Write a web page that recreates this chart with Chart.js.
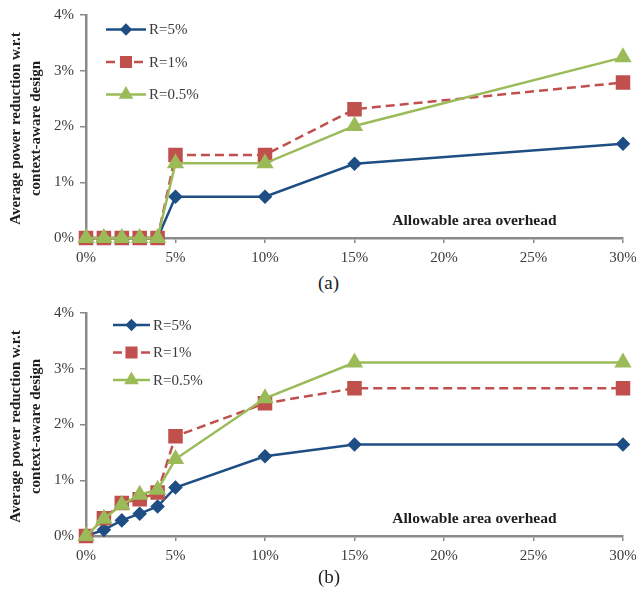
<!DOCTYPE html>
<html>
<head>
<meta charset="utf-8">
<script src="https://cdn.jsdelivr.net/npm/chart.js@4.4.0/dist/chart.umd.min.js"></script>
<style>
  html, body { margin: 0; padding: 0; background: #fff; }
  #wrap { position: relative; width: 636px; height: 593px; }
  .box { position: absolute; left: 0; width: 636px; height: 270px; }
  .cap { position: absolute; font-family: "Liberation Serif", serif; font-size: 19px; color: #222; }
</style>
</head>
<body>
<div id="wrap">
  <div class="box" style="top:0"><canvas id="chartA"></canvas></div>
  <div class="cap" style="left:318px; top:272px">(a)</div>
  <div class="box" style="top:298px"><canvas id="chartB"></canvas></div>
  <div class="cap" style="left:318px; top:566px">(b)</div>
</div>
<script>
// allowable area overhead (%)
const overhead = [0, 1, 2, 3, 4, 5, 10, 15, 30];
const seriesNames = ['R=5%', 'R=1%', 'R=0.5%'];
const xTicks = [0, 5, 10, 15, 20, 25, 30];
const yTicks = [0, 1, 2, 3, 4];
const yTitle = ['Average power reduction w.r.t', 'context-aware design'];

// (a) average power reduction (%)
const a_r5 = [0, 0, 0, 0, 0, 0.74, 0.74, 1.33, 1.69];
const a_r1 = [0, 0, 0, 0, 0, 1.49, 1.49, 2.31, 2.79];
const a_r05 = [0, 0, 0, 0, 0, 1.34, 1.34, 2.01, 3.24];

// (b) average power reduction (%)
const b_r5 = [0, 0.11, 0.28, 0.40, 0.53, 0.87, 1.43, 1.64, 1.64];
const b_r1 = [0, 0.32, 0.59, 0.66, 0.78, 1.79, 2.38, 2.65, 2.65];
const b_r05 = [0, 0.31, 0.56, 0.74, 0.83, 1.38, 2.47, 3.11, 3.11];

const serif = '"Liberation Serif", "Times New Roman", serif';
const axisGray = '#8a8a8a';
const textGray = '#3a3a3a';

function toPoints(vals) {
    return overhead.map((x, i) => ({ x: x, y: vals[i] }));
}

// legend drawn inside the plot area, top left
const insideLegend = {
    id: 'insideLegend',
    afterDraw(chart, args, opts) {
        const ctx = chart.ctx;
        ctx.save();
        chart.data.datasets.forEach((ds, i) => {
            const y = opts.top + i * opts.gap;
            ctx.strokeStyle = ds.borderColor;
            ctx.lineWidth = ds.borderWidth;
            ctx.setLineDash(ds.borderDash || []);
            ctx.beginPath();
            ctx.moveTo(opts.x0, y);
            ctx.lineTo(opts.x1, y);
            ctx.stroke();
            ctx.setLineDash([]);
            ctx.fillStyle = ds.pointBackgroundColor;
            ctx.strokeStyle = ds.pointBorderColor;
            Chart.helpers.drawPoint(ctx, {
                pointStyle: ds.pointStyle,
                radius: ds.pointRadius * 0.8,
                rotation: 0,
                borderWidth: 1
            }, (opts.x0 + opts.x1) / 2, y);
            ctx.fillStyle = textGray;
            ctx.font = '15px ' + serif;
            ctx.textAlign = 'left';
            ctx.textBaseline = 'middle';
            ctx.fillText(ds.label, opts.x1 + 3, y + 1);
        });
        ctx.restore();
    }
};

// "Allowable area overhead" note inside the plot
const areaNote = {
    id: 'areaNote',
    afterDraw(chart, args, opts) {
        const ctx = chart.ctx;
        ctx.save();
        ctx.font = 'bold 15.5px ' + serif;
        ctx.fillStyle = '#1e1e1e';
        ctx.textAlign = 'center';
        ctx.textBaseline = 'middle';
        ctx.fillText(opts.text, chart.scales.x.getPixelForValue(opts.x), chart.scales.y.getPixelForValue(opts.y));
        ctx.restore();
    }
};

// rotated two-line y axis title, centred on the plot height
const yAxisTitle = {
    id: 'yAxisTitle',
    afterDraw(chart) {
        const ctx = chart.ctx;
        const area = chart.chartArea;
        const cy = (area.top + area.bottom) / 2 + 2;
        ctx.save();
        ctx.font = 'bold 15px ' + serif;
        ctx.fillStyle = '#1e1e1e';
        ctx.textAlign = 'center';
        ctx.textBaseline = 'middle';
        yTitle.forEach((line, i) => {
            ctx.save();
            ctx.translate(16 + i * 20, cy);
            ctx.rotate(-Math.PI / 2);
            ctx.fillText(line, 0, 0);
            ctx.restore();
        });
        ctx.restore();
    }
};

function buatChart(id, r5, r1, r05, legendTop, legendGap, legendX0, legendX1) {
    const ctx = document.getElementById(id).getContext('2d');
    return new Chart(ctx, {
        type: 'line',
        data: {
            datasets: [{
                label: seriesNames[0],
                data: toPoints(r5),
                borderColor: '#1f4e85',
                borderWidth: 2.5,
                pointStyle: 'rectRot',
                pointRadius: 5.5,
                pointBackgroundColor: '#1f4e85',
                pointBorderColor: '#1f4e85',
                order: 3,
                clip: false
            }, {
                label: seriesNames[1],
                data: toPoints(r1),
                borderColor: '#c0504d',
                borderWidth: 2.5,
                borderDash: [9, 5],
                pointStyle: 'rect',
                pointRadius: 8.5,
                pointBackgroundColor: '#c0504d',
                pointBorderColor: '#c0504d',
                order: 2,
                clip: false
            }, {
                label: seriesNames[2],
                data: toPoints(r05),
                borderColor: '#9bbb59',
                borderWidth: 2.5,
                pointStyle: 'triangle',
                pointRadius: 7.5,
                pointBackgroundColor: '#9bbb59',
                pointBorderColor: '#9bbb59',
                order: 1,
                clip: false
            }]
        },
        options: {
            responsive: true,
            maintainAspectRatio: false,
            animation: false,
            layout: { padding: { top: 13, right: 13, left: 0, bottom: 0 } },
            plugins: {
                legend: { display: false },
                tooltip: { enabled: false },
                insideLegend: { top: legendTop, gap: legendGap, x0: legendX0, x1: legendX1 },
                areaNote: { text: 'Allowable area overhead', x: 21.7, y: 0.31 }
            },
            scales: {
                x: {
                    type: 'linear',
                    min: 0,
                    max: 30,
                    afterFit(scale) { scale.height = 32; scale.paddingRight = 13; },
                    afterBuildTicks(scale) { scale.ticks = xTicks.map(v => ({ value: v })); },
                    ticks: {
                        color: textGray,
                        font: { family: serif, size: 15 },
                        padding: 6,
                        maxRotation: 0,
                        callback: v => v + '%'
                    },
                    grid: { drawOnChartArea: false, color: axisGray, tickLength: 5, lineWidth: 1.5 },
                    border: { color: axisGray, width: 2.5 }
                },
                y: {
                    min: 0,
                    max: 4,
                    afterFit(scale) { scale.width = 86; },
                    afterBuildTicks(scale) { scale.ticks = yTicks.map(v => ({ value: v })); },
                    ticks: {
                        color: textGray,
                        font: { family: serif, size: 15 },
                        padding: 6,
                        callback: v => v + '%'
                    },
                    grid: { drawOnChartArea: false, color: axisGray, tickLength: 6, lineWidth: 1.5 },
                    border: { color: axisGray, width: 2.5 }
                }
            }
        },
        plugins: [insideLegend, areaNote, yAxisTitle]
    });
}

document.addEventListener('DOMContentLoaded', () => {
    buatChart('chartA', a_r5, a_r1, a_r05, 29.5, 32.5, 106, 146);
    buatChart('chartB', b_r5, b_r1, b_r05, 27, 27.5, 113, 150);
});
</script>
</body>
</html>
